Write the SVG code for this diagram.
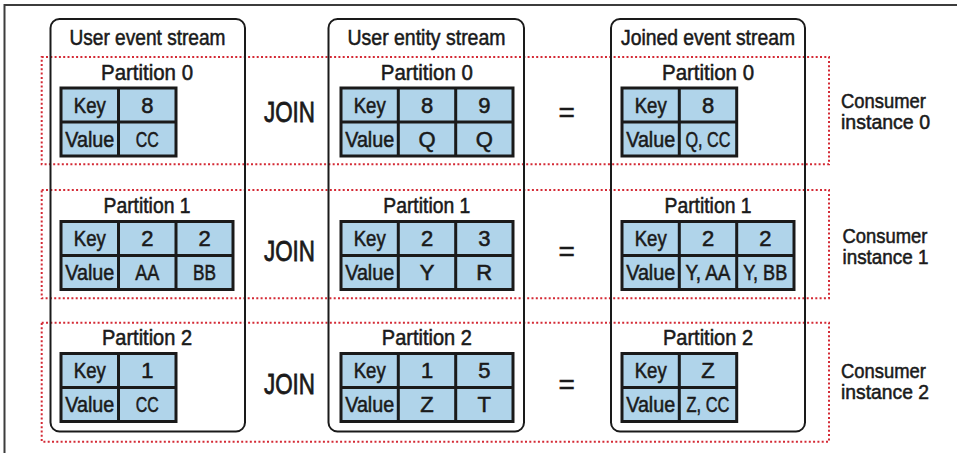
<svg xmlns="http://www.w3.org/2000/svg" width="957" height="453" viewBox="0 0 957 453">
  <style>
    .frame { stroke: #3c3c3c; stroke-width: 2; fill: none; }
    .stream { fill: none; stroke: #1a1a1a; stroke-width: 2; }
    .consumer { fill: none; stroke: #d42a35; stroke-width: 2; stroke-dasharray: 2 2.3; }
    .tbl { fill: #b0d4ea; stroke: #1a1a1a; stroke-width: 3; }
    .div { fill: none; stroke: #1a1a1a; stroke-width: 3; }
    text { font-family: "Liberation Sans", Arial, sans-serif; fill: #1a1a1a; stroke: #1a1a1a; stroke-width: 0.55; text-anchor: middle; }
    .h { font-size: 22px; }
    .c { font-size: 22px; }
    .op { font-size: 30px; stroke-width: 0.8; }
    .eq { font-size: 28px; }
    .side { font-size: 21px; text-anchor: start; }
  </style>

  <!-- page frame -->
  <path class="frame" d="M4.5 453 V5 H957"/>

  <!-- consumer instance partitions (dotted) -->
  <g id="consumer-groups">
    <rect class="consumer" x="41.7" y="57" width="787.3" height="107.3"/>
    <rect class="consumer" x="41.7" y="190" width="787.3" height="108.3"/>
    <rect class="consumer" x="41.7" y="322.7" width="787.3" height="119"/>
  </g>

  <!-- user event stream -->
  <g id="user-event-stream">
    <rect class="stream" x="50.5" y="19" width="194.5" height="412.5" rx="9"/>
    <text class="h" x="147.5" y="44.7" textLength="156" lengthAdjust="spacingAndGlyphs">User event stream</text>

    <g id="event-p0">
      <text class="h" x="147" y="80" textLength="92" lengthAdjust="spacingAndGlyphs">Partition 0</text>
      <rect class="tbl" x="61" y="88" width="115" height="68"/>
      <path class="div" d="M61 122 H176 M118.5 88 V156"/>
      <text class="c" x="89.75" y="112.5" textLength="32" lengthAdjust="spacingAndGlyphs">Key</text>
      <text class="c" x="147.25" y="112.5">8</text>
      <text class="c" x="89.75" y="146.5" textLength="49" lengthAdjust="spacingAndGlyphs">Value</text>
      <text class="c" x="147.25" y="146.5" textLength="23" lengthAdjust="spacingAndGlyphs">CC</text>
    </g>

    <g id="event-p1">
      <text class="h" x="147" y="213.3" textLength="87" lengthAdjust="spacingAndGlyphs">Partition 1</text>
      <rect class="tbl" x="61" y="221.5" width="172" height="68"/>
      <path class="div" d="M61 255.5 H233 M118.5 221.5 V289.5 M176 221.5 V289.5"/>
      <text class="c" x="89.75" y="246" textLength="32" lengthAdjust="spacingAndGlyphs">Key</text>
      <text class="c" x="147.25" y="246">2</text>
      <text class="c" x="204.5" y="246">2</text>
      <text class="c" x="89.75" y="280" textLength="49" lengthAdjust="spacingAndGlyphs">Value</text>
      <text class="c" x="147.25" y="280" textLength="24" lengthAdjust="spacingAndGlyphs">AA</text>
      <text class="c" x="204.5" y="280" textLength="23" lengthAdjust="spacingAndGlyphs">BB</text>
    </g>

    <g id="event-p2">
      <text class="h" x="147" y="345" textLength="90" lengthAdjust="spacingAndGlyphs">Partition 2</text>
      <rect class="tbl" x="61" y="353.5" width="115" height="68"/>
      <path class="div" d="M61 387.5 H176 M118.5 353.5 V421.5"/>
      <text class="c" x="89.75" y="378" textLength="32" lengthAdjust="spacingAndGlyphs">Key</text>
      <text class="c" x="147.25" y="378">1</text>
      <text class="c" x="89.75" y="412" textLength="49" lengthAdjust="spacingAndGlyphs">Value</text>
      <text class="c" x="147.25" y="412" textLength="23" lengthAdjust="spacingAndGlyphs">CC</text>
    </g>
  </g>

  <!-- user entity stream -->
  <g id="user-entity-stream">
    <rect class="stream" x="328.5" y="19" width="195.5" height="412.5" rx="9"/>
    <text class="h" x="426.5" y="44.7" textLength="158" lengthAdjust="spacingAndGlyphs">User entity stream</text>

    <g id="entity-p0">
      <text class="h" x="426.8" y="80" textLength="92" lengthAdjust="spacingAndGlyphs">Partition 0</text>
      <rect class="tbl" x="341" y="88" width="172" height="68"/>
      <path class="div" d="M341 122 H513 M398.3 88 V156 M455.7 88 V156"/>
      <text class="c" x="369.7" y="112.5" textLength="32" lengthAdjust="spacingAndGlyphs">Key</text>
      <text class="c" x="427" y="112.5">8</text>
      <text class="c" x="484.3" y="112.5">9</text>
      <text class="c" x="369.7" y="146.5" textLength="49" lengthAdjust="spacingAndGlyphs">Value</text>
      <text class="c" x="427" y="146.5">Q</text>
      <text class="c" x="484.3" y="146.5">Q</text>
    </g>

    <g id="entity-p1">
      <text class="h" x="426.8" y="213.3" textLength="87" lengthAdjust="spacingAndGlyphs">Partition 1</text>
      <rect class="tbl" x="341" y="221.5" width="172" height="68"/>
      <path class="div" d="M341 255.5 H513 M398.3 221.5 V289.5 M455.7 221.5 V289.5"/>
      <text class="c" x="369.7" y="246" textLength="32" lengthAdjust="spacingAndGlyphs">Key</text>
      <text class="c" x="427" y="246">2</text>
      <text class="c" x="484.3" y="246">3</text>
      <text class="c" x="369.7" y="280" textLength="49" lengthAdjust="spacingAndGlyphs">Value</text>
      <text class="c" x="427" y="280">Y</text>
      <text class="c" x="484.3" y="280">R</text>
    </g>

    <g id="entity-p2">
      <text class="h" x="426.8" y="345" textLength="90" lengthAdjust="spacingAndGlyphs">Partition 2</text>
      <rect class="tbl" x="341" y="353.5" width="172" height="68"/>
      <path class="div" d="M341 387.5 H513 M398.3 353.5 V421.5 M455.7 353.5 V421.5"/>
      <text class="c" x="369.7" y="378" textLength="32" lengthAdjust="spacingAndGlyphs">Key</text>
      <text class="c" x="427" y="378">1</text>
      <text class="c" x="484.3" y="378">5</text>
      <text class="c" x="369.7" y="412" textLength="49" lengthAdjust="spacingAndGlyphs">Value</text>
      <text class="c" x="427" y="412">Z</text>
      <text class="c" x="484.3" y="412">T</text>
    </g>
  </g>

  <!-- joined event stream -->
  <g id="joined-event-stream">
    <rect class="stream" x="611" y="19" width="194" height="412.5" rx="9"/>
    <text class="h" x="708" y="44.7" textLength="174" lengthAdjust="spacingAndGlyphs">Joined event stream</text>

    <g id="joined-p0">
      <text class="h" x="708" y="80" textLength="92" lengthAdjust="spacingAndGlyphs">Partition 0</text>
      <rect class="tbl" x="622" y="88" width="114.7" height="68"/>
      <path class="div" d="M622 122 H736.7 M679.3 88 V156"/>
      <text class="c" x="650.7" y="112.5" textLength="32" lengthAdjust="spacingAndGlyphs">Key</text>
      <text class="c" x="708" y="112.5">8</text>
      <text class="c" x="650.7" y="146.5" textLength="49" lengthAdjust="spacingAndGlyphs">Value</text>
      <text class="c" x="708" y="146.5" textLength="45" lengthAdjust="spacingAndGlyphs">Q, CC</text>
    </g>

    <g id="joined-p1">
      <text class="h" x="708" y="213.3" textLength="87" lengthAdjust="spacingAndGlyphs">Partition 1</text>
      <rect class="tbl" x="622" y="221.5" width="172" height="68"/>
      <path class="div" d="M622 255.5 H794 M679.3 221.5 V289.5 M736.7 221.5 V289.5"/>
      <text class="c" x="650.7" y="246" textLength="32" lengthAdjust="spacingAndGlyphs">Key</text>
      <text class="c" x="708" y="246">2</text>
      <text class="c" x="765.3" y="246">2</text>
      <text class="c" x="650.7" y="280" textLength="49" lengthAdjust="spacingAndGlyphs">Value</text>
      <text class="c" x="708" y="280" textLength="45" lengthAdjust="spacingAndGlyphs">Y, AA</text>
      <text class="c" x="765.3" y="280" textLength="44" lengthAdjust="spacingAndGlyphs">Y, BB</text>
    </g>

    <g id="joined-p2">
      <text class="h" x="708" y="345" textLength="90" lengthAdjust="spacingAndGlyphs">Partition 2</text>
      <rect class="tbl" x="622" y="353.5" width="114.7" height="68"/>
      <path class="div" d="M622 387.5 H736.7 M679.3 353.5 V421.5"/>
      <text class="c" x="650.7" y="378" textLength="32" lengthAdjust="spacingAndGlyphs">Key</text>
      <text class="c" x="708" y="378">Z</text>
      <text class="c" x="650.7" y="412" textLength="49" lengthAdjust="spacingAndGlyphs">Value</text>
      <text class="c" x="708" y="412" textLength="43" lengthAdjust="spacingAndGlyphs">Z, CC</text>
    </g>
  </g>

  <!-- join / equals operators between streams -->
  <g id="operators">
    <text class="op" x="289.5" y="122" textLength="51" lengthAdjust="spacingAndGlyphs">JOIN</text>
    <text class="op" x="289.5" y="261" textLength="51" lengthAdjust="spacingAndGlyphs">JOIN</text>
    <text class="op" x="289.5" y="394" textLength="51" lengthAdjust="spacingAndGlyphs">JOIN</text>
    <text class="eq" x="566.7" y="122">=</text>
    <text class="eq" x="566.7" y="261">=</text>
    <text class="eq" x="566.7" y="394">=</text>
  </g>

  <!-- consumer instance labels -->
  <g id="consumer-labels">
    <text class="side" x="841" y="107.5" textLength="85" lengthAdjust="spacingAndGlyphs">Consumer</text>
    <text class="side" x="841" y="128.5" textLength="89" lengthAdjust="spacingAndGlyphs">instance 0</text>
    <text class="side" x="842.5" y="242.5" textLength="85" lengthAdjust="spacingAndGlyphs">Consumer</text>
    <text class="side" x="842.5" y="263.5" textLength="86" lengthAdjust="spacingAndGlyphs">instance 1</text>
    <text class="side" x="841" y="378.3" textLength="85" lengthAdjust="spacingAndGlyphs">Consumer</text>
    <text class="side" x="841" y="399.3" textLength="88" lengthAdjust="spacingAndGlyphs">instance 2</text>
  </g>
</svg>
